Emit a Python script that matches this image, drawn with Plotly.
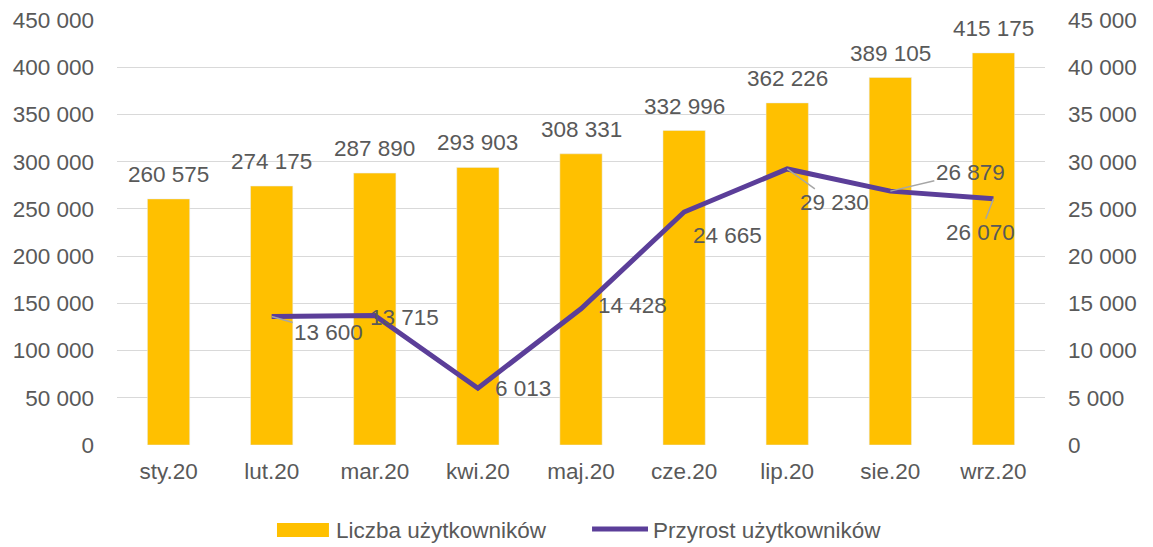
import plotly.graph_objects as go

months = ["sty.20", "lut.20", "mar.20", "kwi.20", "maj.20", "cze.20", "lip.20", "sie.20", "wrz.20"]
users = [260575, 274175, 287890, 293903, 308331, 332996, 362226, 389105, 415175]
growth_months = months[1:]
growth = [13600, 13715, 6013, 14428, 24665, 29230, 26879, 26070]
# pixel offsets (right, down) of each growth label from its point, and whether Excel drew a leader line
label_offsets = [(57, 16, True), (30, 2, False), (45, 0, False), (51, -3, False),
                 (43, 23, False), (47, 34, True), (80, -19, True), (-13, 34, True)]

TEXT = "#595959"
FONT = "Liberation Sans"
SIZE = 22.5
BAR_COLOR = "#FFC000"
LINE_COLOR = "#5B3E99"


def fmt(v):
    return f"{v:,}".replace(",", " ")


fig = go.Figure()
fig.add_trace(go.Bar(
    x=months, y=users, name="Liczba użytkowników",
    marker_color=BAR_COLOR, width=0.41, showlegend=False,
))
fig.add_trace(go.Scatter(
    x=growth_months, y=growth, name="Przyrost użytkowników", yaxis="y2",
    mode="lines", line=dict(color=LINE_COLOR, width=5), showlegend=False,
))

for m, v in zip(months, users):
    fig.add_annotation(x=m, y=v, xref="x", yref="y", text=fmt(v), showarrow=False,
                       yanchor="bottom", yshift=10, font=dict(size=SIZE, color=TEXT, family=FONT))

for m, v, (dx, dy, leader) in zip(growth_months, growth, label_offsets):
    fig.add_annotation(
        x=m, y=v, xref="x", yref="y2", text=fmt(v),
        showarrow=leader, ax=dx, ay=dy, arrowhead=0, arrowwidth=1.5,
        arrowcolor="#A6A6A6", standoff=0,
        xshift=0 if leader else dx, yshift=0 if leader else -dy,
        font=dict(size=SIZE, color=TEXT, family=FONT),
    )

# Excel-style legend below the plot (wide swatches), in paper coordinates
fig.add_shape(type="rect", xref="paper", yref="paper", x0=0.1724, x1=0.2284, y0=-0.2165, y1=-0.1835,
              fillcolor=BAR_COLOR, line_width=0)
fig.add_annotation(xref="paper", yref="paper", x=0.2338, y=-0.2, xanchor="left", yanchor="middle",
                   text="Liczba użytkowników", showarrow=False, font=dict(size=SIZE, color=TEXT, family=FONT))
fig.add_shape(type="line", xref="paper", yref="paper", x0=0.5119, x1=0.5722, y0=-0.1976, y1=-0.1976,
              line=dict(color=LINE_COLOR, width=5))
fig.add_annotation(xref="paper", yref="paper", x=0.5754, y=-0.2, xanchor="left", yanchor="middle",
                   text="Przyrost użytkowników", showarrow=False, font=dict(size=SIZE, color=TEXT, family=FONT))

# the page body has an 8px margin, so the figure is offset by 8px right and down
fig.update_layout(
    width=1153, height=547,
    margin=dict(l=109, r=116, t=12, b=110, autoexpand=False),
    paper_bgcolor="white", plot_bgcolor="white",
    separators=", ",
    font=dict(family=FONT, size=SIZE, color=TEXT),
    bargap=0.59,
    showlegend=False,
    xaxis=dict(showgrid=False, ticks="", tickfont=dict(size=SIZE), automargin=False,
               ticklabelstandoff=10),
    yaxis=dict(range=[0, 450000], dtick=50000, tickformat=",d", showgrid=True,
               gridcolor="#D9D9D9", gridwidth=1, zeroline=False, ticks="",
               tickfont=dict(size=SIZE), ticklabelstandoff=22, automargin=False,
               ticklabeloverflow="allow"),
    yaxis2=dict(range=[0, 45000], dtick=5000, tickformat=",d", overlaying="y", side="right",
                showgrid=False, zeroline=False, ticks="", tickfont=dict(size=SIZE),
                ticklabelstandoff=22, automargin=False, ticklabeloverflow="allow"),
)

fig.write_html("out.html")
